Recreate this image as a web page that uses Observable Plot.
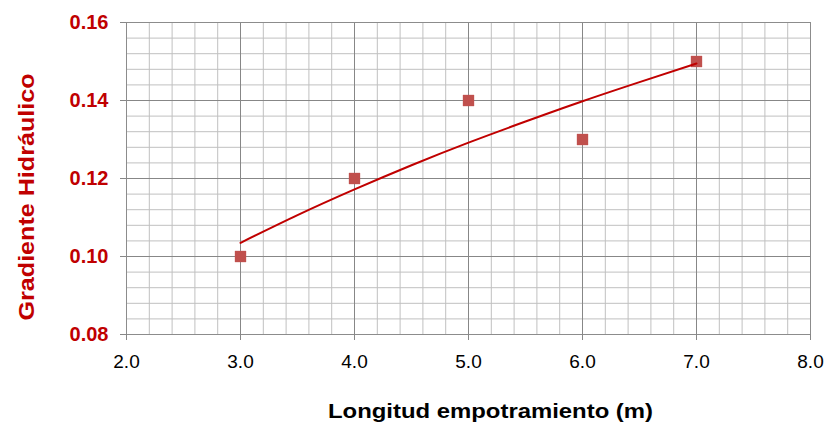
<!DOCTYPE html>
<html>
<head>
<meta charset="utf-8">
<script src="https://cdn.jsdelivr.net/npm/d3@7"></script>
<script src="https://cdn.jsdelivr.net/npm/@observablehq/plot@0.6"></script>
<style>
  html, body { margin: 0; padding: 0; background: #fff; }
  #chart { width: 827px; height: 423px; }
</style>
</head>
<body>
<div id="chart"></div>
<script>
// Observed data
const longitud = [3, 4, 5, 6, 7];
const gradiente = [0.10, 0.12, 0.14, 0.13, 0.15];

// Trend curve (power trendline)
const trendX = [3, 3.5, 4, 4.5, 5, 5.5, 6, 6.5, 7];
const trendY = [0.1035, 0.1106, 0.1172, 0.1234, 0.1292, 0.1346, 0.1398, 0.1447, 0.1495];

// Tick labels
const xTicks = [2, 3, 4, 5, 6, 7, 8];
const yTicks = [0.08, 0.10, 0.12, 0.14, 0.16];
const xMinor = d3.range(0, 31).map(i => 2 + i * 0.2);
const yMinor = d3.range(0, 21).map(i => 0.08 + i * 0.004);

const xLabel = "Longitud empotramiento (m)";
const yLabel = "Gradiente Hidráulico";

const points = longitud.map((x, i) => ({x, y: gradiente[i]}));
const trend = trendX.map((x, i) => ({x, y: trendY[i]}));

const red = "#c00000";
const font = "'Liberation Sans', Arial, sans-serif";

const chart = Plot.plot({
  width: 827,
  height: 423,
  marginLeft: 126,
  marginRight: 17,
  marginTop: 22,
  marginBottom: 89,
  style: {fontFamily: font, background: "#fff", overflow: "visible"},
  x: {domain: [2, 8]},
  y: {domain: [0.08, 0.16]},
  marks: [
    Plot.ruleX(xMinor, {stroke: "#c0c0c0", strokeWidth: 1}),
    Plot.ruleY(yMinor, {stroke: "#c0c0c0", strokeWidth: 1}),
    Plot.ruleX(xTicks, {stroke: "#878787", strokeWidth: 1}),
    Plot.ruleY(yTicks, {stroke: "#878787", strokeWidth: 1}),
    Plot.frame({stroke: "#8c8c8c", strokeWidth: 1}),
    Plot.axisY({
      ticks: yTicks, tickFormat: d3.format(".2f"), tickSize: 6, tickPadding: 12,
      stroke: "#878787", fill: red, fontSize: 20, fontWeight: "bold", label: null
    }),
    Plot.axisX({
      ticks: xTicks, tickFormat: d3.format(".1f"), tickSize: 6, tickPadding: 14,
      stroke: "#878787", fill: "#000", fontSize: 19, label: null
    }),
    Plot.dot(points, {x: "x", y: "y", symbol: "square", r: 6.4, fill: "#c0504d", stroke: "none"}),
    Plot.line(trend, {x: "x", y: "y", stroke: red, strokeWidth: 2, curve: "natural"}),
    Plot.text([xLabel], {
      frameAnchor: "bottom", fontSize: 20, fontWeight: "bold", fill: "#000"
    }),
    Plot.text([yLabel], {
      frameAnchor: "left", fontSize: 22, fontWeight: "bold", fill: red
    })
  ]
});

document.getElementById("chart").appendChild(chart);

// place and stretch the axis titles as in the reference
const svg = d3.select(chart);
function placeTitle(label, transform, length) {
  svg.selectAll("text").filter(function () { return this.textContent === label; })
    .attr("x", null).attr("y", null).attr("dx", null).attr("dy", null)
    .attr("text-anchor", "middle")
    .attr("transform", transform)
    .attr("textLength", length)
    .attr("lengthAdjust", "spacingAndGlyphs");
}
placeTitle(xLabel, "translate(490,417)", 325);
placeTitle(yLabel, "translate(33,196.5) rotate(-90)", 247);
</script>
</body>
</html>
